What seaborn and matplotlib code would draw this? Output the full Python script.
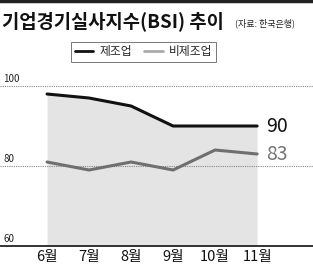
import pandas as pd
import matplotlib.pyplot as plt
import matplotlib.transforms as mtransforms
from matplotlib.lines import Line2D
import seaborn as sns

months = ['6월', '7월', '8월', '9월', '10월', '11월']
manufacturing = [98, 97, 95, 90, 90, 90]
non_manufacturing = [81, 79, 81, 79, 84, 83]
y_ticks = [60, 80, 100]

sns.set_style("white")
plt.rcParams['font.family'] = ['Noto Sans CJK KR', 'DejaVu Sans']

df = pd.DataFrame({
    'x': list(range(len(months))) * 2,
    'value': manufacturing + non_manufacturing,
    'series': ['제조업'] * len(months) + ['비제조업'] * len(months),
})

fig = plt.figure(figsize=(3.13, 2.66), dpi=100)
ax = fig.add_axes([0, 0.0752, 1, 0.624])

# shaded area under manufacturing line
ax.fill_between(range(len(months)), 60, manufacturing, color='#e4e4e4', zorder=1, lw=0)

sns.lineplot(data=df, x='x', y='value', hue='series',
             palette={'제조업': '#111111', '비제조업': '#6f6f6f'},
             linewidth=2.2, legend=False, ax=ax, zorder=3)

ax.set_xlim(-1.12, 6.33)
ax.set_ylim(60, 101.5)

# dotted gridlines + labels
trans = mtransforms.blended_transform_factory(ax.transAxes, ax.transData)
for v in y_ticks:
    if v != 60:
        ax.axhline(v, color='#888888', lw=0.8, ls=(0, (1, 1)), zorder=2)
    ax.text(0.01, v + 0.6, str(v), transform=trans, fontsize=7, color='#222222',
            va='bottom', ha='left')

for s in ['top', 'right', 'left']:
    ax.spines[s].set_visible(False)
ax.spines['bottom'].set_color('#111111')
ax.spines['bottom'].set_linewidth(1.2)

ax.set_yticks([])
ax.set_xticks(range(len(months)))
ax.set_xticklabels(months, fontsize=10.5, color='#111111')
ax.tick_params(axis='x', direction='in', length=5, width=0.7, color='#666666', pad=3)
ax.set_xlabel('')
ax.set_ylabel('')

# end labels
ax.text(len(months) - 1 + 0.22, manufacturing[-1], str(manufacturing[-1]), fontsize=14,
        color='#111111', va='center', ha='left')
ax.text(len(months) - 1 + 0.22, non_manufacturing[-1], str(non_manufacturing[-1]), fontsize=14,
        color='#777777', va='center', ha='left')

# title
fig.text(0.005, 0.922, '기업경기실사지수(BSI) 추이', fontsize=13.5, fontweight='bold',
         color='#111111', va='center', ha='left')
fig.text(0.75, 0.912, '(자료: 한국은행)', fontsize=6.5, color='#222222', va='center', ha='left')

# top border
fig.add_artist(Line2D([0, 1], [0.995, 0.995], transform=fig.transFigure, color='#222222', lw=2.5))

# legend
handles = [Line2D([], [], color='#111111', lw=2),
           Line2D([], [], color='#aaaaaa', lw=2)]
leg = fig.legend(handles, ['제조업', '비제조업'], loc='center', bbox_to_anchor=(0.458, 0.806),
                 ncol=2, fontsize=8.5, frameon=True, fancybox=False, handlelength=1.6,
                 handletextpad=0.5, columnspacing=1.0, borderpad=0.3)
leg.get_frame().set_edgecolor('#555555')
leg.get_frame().set_linewidth(0.7)

fig.savefig('out.png', dpi=100)
